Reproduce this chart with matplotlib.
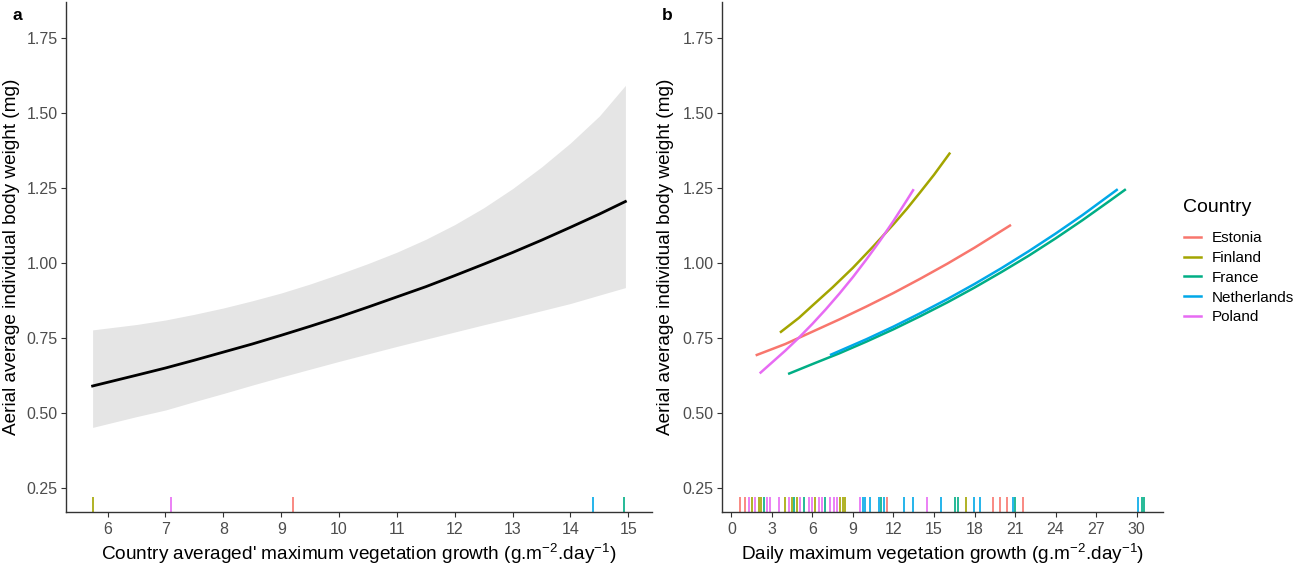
import matplotlib
matplotlib.use("Agg")
import matplotlib.pyplot as plt
from matplotlib.lines import Line2D

plt.rcParams['font.family'] = ['Liberation Sans', 'DejaVu Sans']
plt.rcParams['mathtext.fontset'] = 'custom'
plt.rcParams['mathtext.rm'] = 'Liberation Sans'
plt.rcParams['mathtext.it'] = 'Liberation Sans:italic'

countries = ["Estonia", "Finland", "France", "Netherlands", "Poland"]
colors = ["#F8766D", "#A3A500", "#00AE85", "#00A8E8", "#E76BF3"]

# panel a: model fit on country averages
avg_growth = [5.74, 6.5, 7, 7.5, 8, 8.5, 9, 9.5, 10, 10.5, 11, 11.5, 12,
              12.5, 13, 13.5, 14, 14.5, 14.95]
avg_fit = [0.590, 0.626, 0.650, 0.676, 0.703, 0.730, 0.759, 0.789, 0.820,
           0.853, 0.887, 0.921, 0.958, 0.996, 1.035, 1.076, 1.119, 1.163, 1.205]
avg_upper = [0.777, 0.795, 0.810, 0.829, 0.850, 0.874, 0.900, 0.930, 0.963,
             0.998, 1.036, 1.079, 1.128, 1.184, 1.248, 1.320, 1.400, 1.490, 1.592]
avg_lower = [0.452, 0.488, 0.510, 0.538, 0.565, 0.593, 0.620, 0.646, 0.672,
             0.697, 0.722, 0.746, 0.770, 0.794, 0.817, 0.841, 0.865, 0.893, 0.918]
avg_rug = {"Estonia": [9.21], "Finland": [5.74], "France": [14.93],
           "Netherlands": [14.39], "Poland": [7.09]}

# panel b: per-country fits on daily values
fit_x = {
    "Estonia": [1.8, 4, 6, 8, 10, 12, 14, 16, 18, 20.7],
    "Finland": [3.6, 5, 6, 7.5, 9, 10.5, 12, 13, 14, 15, 16.2],
    "France": [4.2, 6, 8, 10, 12, 14, 16, 18, 20, 22, 24, 26, 28, 29.2],
    "Netherlands": [7.3, 10, 12, 14, 16, 18, 20, 22, 24, 26, 28.6],
    "Poland": [2.1, 3, 4, 5, 6, 7, 8, 9, 10, 11, 12, 13, 13.5],
}
fit_y = {
    "Estonia": [0.692, 0.730, 0.771, 0.812, 0.855, 0.900, 0.948, 0.998, 1.051, 1.127],
    "Finland": [0.768, 0.817, 0.858, 0.919, 0.984, 1.055, 1.129, 1.181, 1.237,
                1.294, 1.368],
    "France": [0.630, 0.663, 0.699, 0.738, 0.779, 0.823, 0.869, 0.918, 0.970,
               1.024, 1.082, 1.143, 1.207, 1.246],
    "Netherlands": [0.693, 0.746, 0.788, 0.833, 0.880, 0.930, 0.983, 1.039,
                    1.098, 1.160, 1.246],
    "Poland": [0.632, 0.668, 0.708, 0.751, 0.797, 0.846, 0.898, 0.953, 1.012,
               1.074, 1.140, 1.210, 1.246],
}
daily_rug = {
    "Estonia": [0.67, 1.04, 11.51, 19.4, 19.85, 20.39, 21.57],
    "Finland": [1.53, 2.02, 2.19, 4.0, 4.49, 4.86, 6.21, 8.06, 8.26, 8.43, 17.36],
    "France": [2.39, 4.66, 5.35, 6.95, 11.1, 16.57, 16.81, 21.0, 30.37, 30.55],
    "Netherlands": [9.74, 9.91, 10.23, 10.9, 11.27, 12.75, 13.44, 15.53, 17.97,
                    18.42, 20.88, 30.13],
    "Poland": [1.28, 1.78, 2.64, 2.88, 3.5, 4.24, 5.1, 5.72, 5.97, 6.46, 6.71,
               7.32, 7.57, 7.82, 9.54, 14.47],
}

yticks = [0.25, 0.50, 0.75, 1.00, 1.25, 1.50, 1.75]
ylab = "Aerial average individual body weight (mg)"

W, H = 1298, 564
fig = plt.figure(figsize=(W / 100, H / 100), dpi=100)
ax1 = fig.add_axes([66 / W, 1 - 512 / H, (652 - 66) / W, 510 / H])
ax2 = fig.add_axes([722 / W, 1 - 512 / H, (1163 - 722) / W, 510 / H])


def style(ax, label_x):
    for s in ["top", "right"]:
        ax.spines[s].set_visible(False)
    for s in ["left", "bottom"]:
        ax.spines[s].set_color("#333333")
        ax.spines[s].set_linewidth(1.0)
    ax.tick_params(colors="#333333", labelcolor="#4D4D4D", labelsize=11.5,
                   length=3.5, width=0.8)
    ax.tick_params(axis="y", pad=2.5)
    ax.set_ylim(0.17, 1.87)
    ax.set_yticks(yticks)
    ax.set_yticklabels([f"{v:.2f}" for v in yticks])
    ax.set_ylabel(ylab, fontsize=13.7, color="black")
    ax.yaxis.set_label_coords(label_x, 0.5)


# panel a
ax1.fill_between(avg_growth, avg_lower, avg_upper, color="#E5E5E5", lw=0)
ax1.plot(avg_growth, avg_fit, color="black", lw=2.0)
for c, col in zip(countries, colors):
    ax1.vlines(avg_rug[c], 0, 0.03, color=col, lw=1.2,
               transform=ax1.get_xaxis_transform())
ax1.set_xlim(5.28, 15.41)
ax1.set_xticks(range(6, 16))
style(ax1, -0.078)
ax1.set_xlabel(r"Country averaged' maximum vegetation growth (g.m$^{-2}$.day$^{-1}$)",
               fontsize=13.7, labelpad=4)

# panel b
for c, col in zip(countries, colors):
    ax2.plot(fit_x[c], fit_y[c], color=col, lw=1.8, solid_capstyle="butt")
    ax2.vlines(daily_rug[c], 0, 0.03, color=col, lw=1.2,
               transform=ax2.get_xaxis_transform())
ax2.set_xlim(-0.69, 31.95)
ax2.set_xticks(range(0, 31, 3))
style(ax2, -0.108)
ax2.set_xlabel(r"Daily maximum vegetation growth (g.m$^{-2}$.day$^{-1}$)",
               fontsize=13.7, labelpad=4)

fig.text(12 / W, 1 - 16 / H, "a", fontsize=12.5, fontweight="bold", va="center")
fig.text(662 / W, 1 - 16 / H, "b", fontsize=12.5, fontweight="bold", va="center")

handles = [Line2D([], [], color=col, lw=1.8) for col in colors]
fig.text(1183 / W, 1 - 207 / H, "Country", fontsize=14, va="center")
fig.legend(handles, countries, loc="upper left",
           bbox_to_anchor=(1175 / W, 1 - 222 / H), frameon=False,
           fontsize=11, handlelength=1.1, borderaxespad=0.2,
           handletextpad=0.7, labelspacing=0.38)

fig.savefig("out.png", dpi=100)
